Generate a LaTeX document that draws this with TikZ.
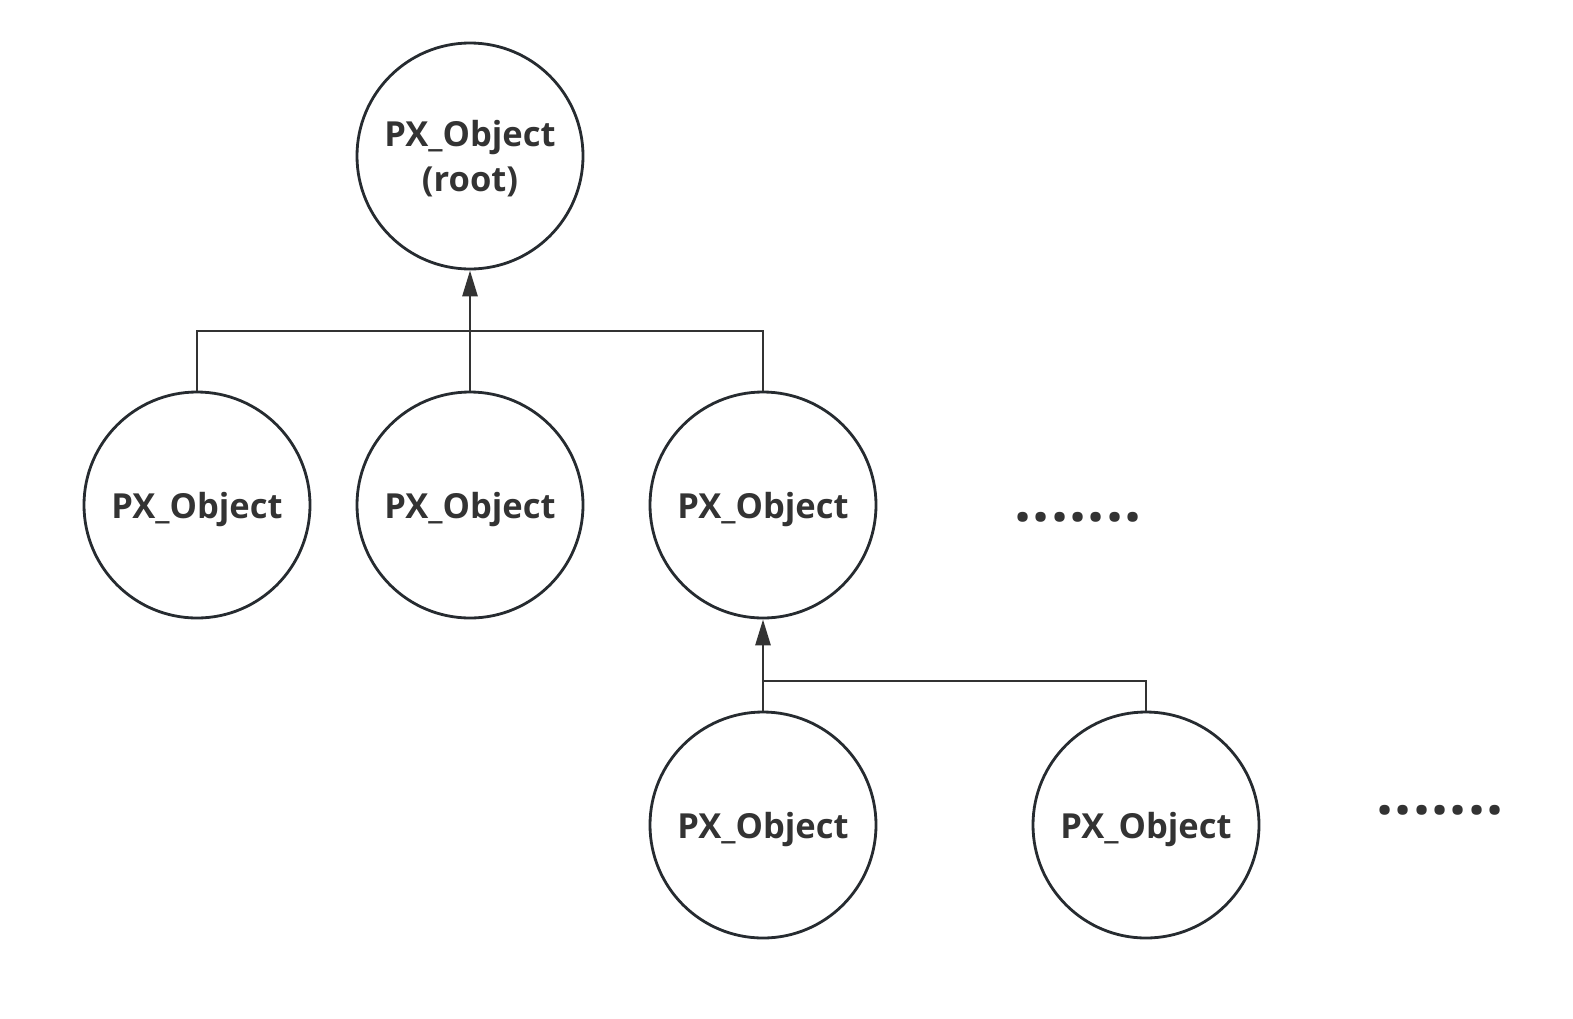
\documentclass[tikz,border=0pt]{standalone}
\usepackage{fontspec}
\setmainfont{Open Sans}
\usetikzlibrary{arrows.meta}
\definecolor{ink}{HTML}{333333}
\definecolor{edge}{HTML}{262B30}
\newcommand{\dotrow}{\textbf{.\kern1.3pt.\kern1.3pt.\kern1.3pt.\kern1.3pt.\kern1.3pt.\kern1.3pt.}}
\begin{document}
\begin{tikzpicture}[x=1pt,y=-1pt,
  obj/.style={circle,draw=edge,line width=2.8pt,minimum size=226pt,inner sep=0pt,
    font=\fontsize{34.5}{45}\selectfont\bfseries,text=ink,align=center,text depth=0pt},
  conn/.style={draw=ink,line width=2.8pt},
  arr/.style={conn,-{Triangle[length=26pt,width=15pt]}},
  dots/.style={font=\fontsize{60}{60}\selectfont,text=ink,inner sep=0pt,anchor=base}]
\useasboundingbox (0,0) rectangle (1573,1018);
\node[obj] (root) at (470,156) {PX\_Object\\(root)};
\node[obj] (a) at (197,505) {PX\_Object};
\node[obj] (b) at (470,505) {PX\_Object};
\node[obj] (c) at (763,505) {PX\_Object};
\node[obj] (d) at (763,825) {PX\_Object};
\node[obj] (e) at (1146,825) {PX\_Object};
\node[dots] (dA) at (1078,521) {\dotrow};
\node[dots] (dB) at (1440,814) {\dotrow};
\coordinate (j1) at (470,331);
\coordinate (j2) at (763,681);
\draw[conn] (a.north) |- (j1) -| (c.north);
\draw[arr] (b.north) -- (root.south);
\draw[conn] (e.north) |- (j2);
\draw[arr] (d.north) -- (c.south);
\end{tikzpicture}
\end{document}
